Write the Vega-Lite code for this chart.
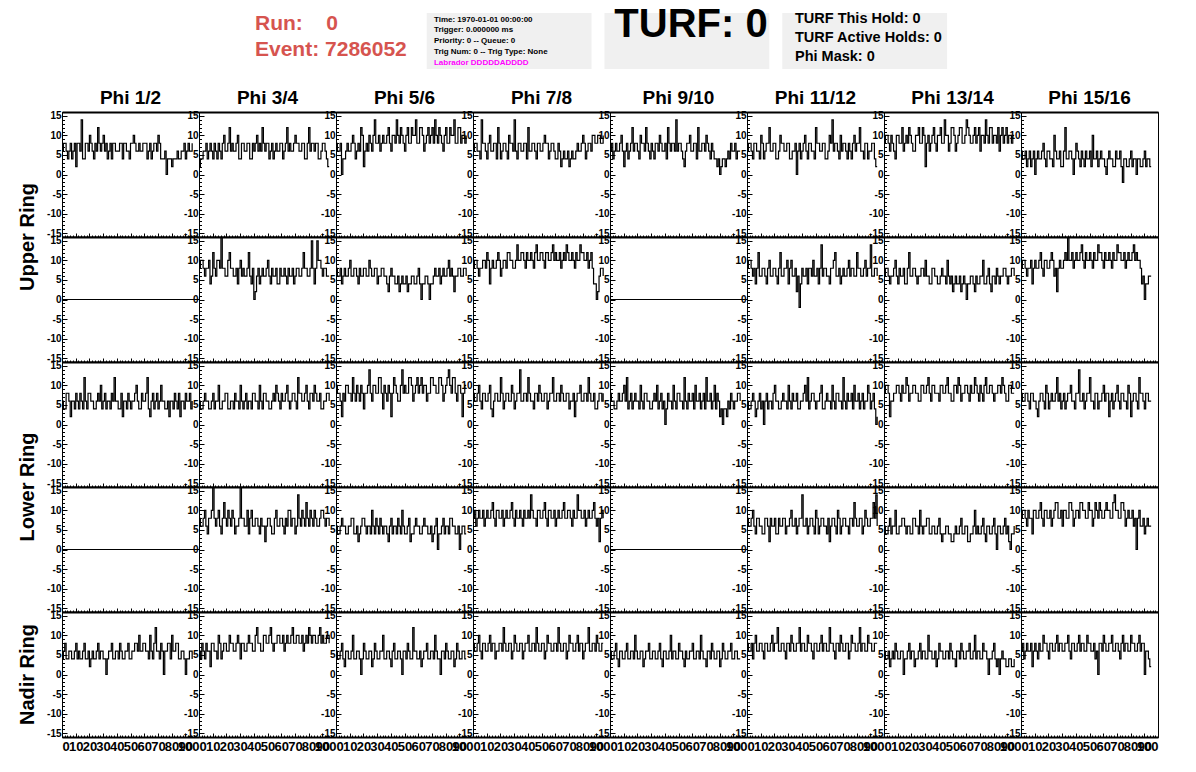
{
"$schema": "https://vega.github.io/schema/vega-lite/v6.json",
"padding": {"left": 0, "top": 4, "right": 0, "bottom": 0},
"background": "white",
"config": {"view": {"stroke": "black", "strokeWidth": 1, "fill": "white"}, "font": "Liberation Sans"},
"datasets": {"waves": [
{"ring":"U1","phi":"Phi 1/2","x":[0,1,2,3,4,5,6,7,8,9,10,11,12,13,14,15,16,17,18,19,20,21,22,23,24,25,26,27,28,29,30,31,32,33,34,35,36,37,38,39,40,41,42,43,44,45,46,47,48,49,50,51,52,53,54,55,56,57,58,59,60,61,62,63,64,65,66,67,68,69,70,71,72,73,74,75,76,77,78,79,80,81,82,83,84,85,86,87,88,89,90,91,92,93,94,95],"y":[6,8,8,6,4,6,8,4,6,8,2,8,8,6,14,4,4,8,8,6,10,8,6,4,8,6,12,8,6,8,10,6,8,4,6,8,4,8,8,6,6,6,8,8,4,8,8,6,6,4,8,8,10,8,6,6,8,6,6,8,8,8,4,6,8,4,6,8,8,6,10,8,4,4,4,6,0,4,4,4,2,4,4,4,6,4,4,6,6,8,4,6,8,6,6,8]},
{"ring":"U1","phi":"Phi 3/4","x":[0,1,2,3,4,5,6,7,8,9,10,11,12,13,14,15,16,17,18,19,20,21,22,23,24,25,26,27,28,29,30,31,32,33,34,35,36,37,38,39,40,41,42,43,44,45,46,47,48,49,50,51,52,53,54,55,56,57,58,59,60,61,62,63,64,65,66,67,68,69,70,71,72,73,74,75,76,77,78,79,80,81,82,83,84,85,86,87,88,89,90,91,92,93,94,95],"y":[2,4,4,6,6,8,4,6,8,6,4,8,6,4,8,6,4,8,10,6,6,8,12,6,8,6,6,8,10,4,4,8,8,6,6,8,8,4,4,8,6,8,10,6,8,6,12,8,6,8,8,4,6,8,4,6,8,6,6,8,8,4,6,8,12,6,8,6,6,8,10,8,8,6,6,8,8,4,4,8,12,6,8,8,6,8,8,4,4,6,8,8,6,4,2,2]},
{"ring":"U1","phi":"Phi 5/6","x":[0,1,2,3,4,5,6,7,8,9,10,11,12,13,14,15,16,17,18,19,20,21,22,23,24,25,26,27,28,29,30,31,32,33,34,35,36,37,38,39,40,41,42,43,44,45,46,47,48,49,50,51,52,53,54,55,56,57,58,59,60,61,62,63,64,65,66,67,68,69,70,71,72,73,74,75,76,77,78,79,80,81,82,83,84,85,86,87,88,89,90,91,92,93,94,95],"y":[8,6,6,8,0,4,4,6,8,6,6,8,10,8,4,6,8,6,12,10,2,6,8,6,10,8,6,10,14,8,8,10,6,8,10,8,8,10,12,8,6,10,10,8,14,10,8,12,10,8,6,10,12,8,8,12,10,10,14,8,8,12,12,10,6,8,10,12,8,10,12,8,14,10,8,12,10,8,6,10,12,8,8,12,10,10,14,8,8,12,12,8,10,10,8,10]},
{"ring":"U1","phi":"Phi 7/8","x":[0,1,2,3,4,5,6,7,8,9,10,11,12,13,14,15,16,17,18,19,20,21,22,23,24,25,26,27,28,29,30,31,32,33,34,35,36,37,38,39,40,41,42,43,44,45,46,47,48,49,50,51,52,53,54,55,56,57,58,59,60,61,62,63,64,65,66,67,68,69,70,71,72,73,74,75,76,77,78,79,80,81,82,83,84,85,86,87,88,89,90,91,92,93,94,95],"y":[6,8,8,6,6,4,14,8,8,6,4,8,10,6,6,8,8,4,12,8,4,6,8,8,6,4,10,8,8,6,14,6,4,8,8,6,6,8,8,4,12,6,6,8,8,6,4,8,8,6,6,8,10,8,8,4,6,8,8,6,4,4,8,6,2,4,6,4,4,6,2,4,6,4,4,6,8,6,6,8,10,8,4,6,8,8,6,10,10,8,8,10,10,8,8,10]},
{"ring":"U1","phi":"Phi 9/10","x":[0,1,2,3,4,5,6,7,8,9,10,11,12,13,14,15,16,17,18,19,20,21,22,23,24,25,26,27,28,29,30,31,32,33,34,35,36,37,38,39,40,41,42,43,44,45,46,47,48,49,50,51,52,53,54,55,56,57,58,59,60,61,62,63,64,65,66,67,68,69,70,71,72,73,74,75,76,77,78,79,80,81,82,83,84,85,86,87,88,89,90,91,92,93,94,95],"y":[6,8,4,6,8,6,6,8,10,6,2,6,8,4,6,8,12,6,8,8,6,4,10,8,8,6,12,8,6,4,8,6,4,8,8,6,10,8,6,6,8,4,12,8,6,8,8,6,14,6,8,8,6,4,2,6,8,8,10,6,6,8,8,4,12,6,6,8,8,6,10,8,6,4,8,6,4,4,2,4,0,2,4,4,2,4,6,4,8,6,6,8,4,6,6,6]},
{"ring":"U1","phi":"Phi 11/12","x":[0,1,2,3,4,5,6,7,8,9,10,11,12,13,14,15,16,17,18,19,20,21,22,23,24,25,26,27,28,29,30,31,32,33,34,35,36,37,38,39,40,41,42,43,44,45,46,47,48,49,50,51,52,53,54,55,56,57,58,59,60,61,62,63,64,65,66,67,68,69,70,71,72,73,74,75,76,77,78,79,80,81,82,83,84,85,86,87,88,89,90,91,92,93,94,95],"y":[6,8,8,6,4,8,8,6,6,4,10,8,4,6,8,8,12,6,6,8,8,4,4,6,10,8,8,6,6,8,8,4,4,6,6,8,0,6,8,4,6,8,10,6,4,8,8,6,6,4,12,8,8,6,6,8,8,4,4,6,10,8,14,6,8,8,6,4,10,6,8,8,6,4,8,6,4,8,10,6,8,8,12,6,6,4,8,8,4,6,6,8,8,4,2,2]},
{"ring":"U1","phi":"Phi 13/14","x":[0,1,2,3,4,5,6,7,8,9,10,11,12,13,14,15,16,17,18,19,20,21,22,23,24,25,26,27,28,29,30,31,32,33,34,35,36,37,38,39,40,41,42,43,44,45,46,47,48,49,50,51,52,53,54,55,56,57,58,59,60,61,62,63,64,65,66,67,68,69,70,71,72,73,74,75,76,77,78,79,80,81,82,83,84,85,86,87,88,89,90,91,92,93,94,95],"y":[8,10,10,8,6,10,8,6,4,10,10,8,8,12,6,8,10,8,12,10,8,6,6,10,10,12,8,8,12,10,2,8,10,6,8,10,12,8,6,10,10,12,8,8,14,10,10,6,8,12,12,10,6,8,10,12,12,8,8,10,14,12,10,8,8,10,12,8,10,12,6,10,10,8,14,10,8,12,12,8,10,10,8,12,6,10,12,8,10,12,8,10,10,8,10,10]},
{"ring":"U1","phi":"Phi 15/16","x":[0,1,2,3,4,5,6,7,8,9,10,11,12,13,14,15,16,17,18,19,20,21,22,23,24,25,26,27,28,29,30,31,32,33,34,35,36,37,38,39,40,41,42,43,44,45,46,47,48,49,50,51,52,53,54,55,56,57,58,59,60,61,62,63,64,65,66,67,68,69,70,71,72,73,74,75,76,77,78,79,80,81,82,83,84,85,86,87,88,89,90,91,92,93,94,95],"y":[6,4,4,6,2,4,6,2,4,6,0,4,6,4,4,6,8,4,2,6,6,4,4,2,10,6,4,4,6,2,2,6,12,4,4,6,6,4,0,4,8,6,4,2,6,4,2,6,4,4,6,2,10,4,4,6,2,4,6,4,4,2,0,4,6,4,4,2,2,6,4,4,6,2,-2,4,4,2,2,4,6,2,4,4,0,4,4,2,2,4,6,2,4,4,2,2]},
{"ring":"U2","phi":"Phi 1/2","x":[0,100],"y":[0,0]},
{"ring":"U2","phi":"Phi 3/4","x":[0,1,2,3,4,5,6,7,8,9,10,11,12,13,14,15,16,17,18,19,20,21,22,23,24,25,26,27,28,29,30,31,32,33,34,35,36,37,38,39,40,41,42,43,44,45,46,47,48,49,50,51,52,53,54,55,56,57,58,59,60,61,62,63,64,65,66,67,68,69,70,71,72,73,74,75,76,77,78,79,80,81,82,83,84,85,86,87,88,89,90,91,92,93,94,95],"y":[8,10,10,8,6,8,8,10,4,6,12,8,6,10,10,8,16,8,8,6,6,10,12,8,8,6,6,8,4,8,10,6,8,6,6,8,12,6,4,8,0,2,6,8,4,6,8,6,6,8,10,6,4,8,6,6,8,4,4,8,6,6,8,6,4,8,6,6,8,4,6,8,8,6,6,8,12,8,8,6,6,8,15,8,4,8,15,10,10,8,6,8,8,6,6,6]},
{"ring":"U2","phi":"Phi 5/6","x":[0,1,2,3,4,5,6,7,8,9,10,11,12,13,14,15,16,17,18,19,20,21,22,23,24,25,26,27,28,29,30,31,32,33,34,35,36,37,38,39,40,41,42,43,44,45,46,47,48,49,50,51,52,53,54,55,56,57,58,59,60,61,62,63,64,65,66,67,68,69,70,71,72,73,74,75,76,77,78,79,80,81,82,83,84,85,86,87,88,89,90,91,92,93,94,95],"y":[8,6,6,8,4,6,8,6,6,8,10,6,6,8,8,6,4,8,6,6,8,8,6,6,10,8,6,6,8,8,4,6,6,8,8,6,6,4,2,6,8,6,6,4,4,6,2,4,6,4,4,6,2,4,4,6,6,4,4,6,8,4,0,4,4,6,6,4,0,4,4,6,8,6,6,8,4,6,8,6,6,8,10,6,8,6,2,6,6,8,8,6,6,8,8,6]},
{"ring":"U2","phi":"Phi 7/8","x":[0,1,2,3,4,5,6,7,8,9,10,11,12,13,14,15,16,17,18,19,20,21,22,23,24,25,26,27,28,29,30,31,32,33,34,35,36,37,38,39,40,41,42,43,44,45,46,47,48,49,50,51,52,53,54,55,56,57,58,59,60,61,62,63,64,65,66,67,68,69,70,71,72,73,74,75,76,77,78,79,80,81,82,83,84,85,86,87,88,89,90,91,92,93,94,95],"y":[8,10,10,8,6,8,8,10,10,8,12,10,4,8,10,8,8,10,12,10,6,8,10,10,8,12,12,10,10,8,8,10,14,10,10,12,12,10,8,12,10,10,12,10,8,12,14,10,10,12,12,10,8,12,12,10,10,12,14,10,12,10,10,12,8,10,12,10,14,12,10,10,12,10,8,12,10,10,14,12,12,10,10,12,8,10,12,8,4,4,0,2,6,8,8,6]},
{"ring":"U2","phi":"Phi 9/10","x":[0,100],"y":[0,0]},
{"ring":"U2","phi":"Phi 11/12","x":[0,1,2,3,4,5,6,7,8,9,10,11,12,13,14,15,16,17,18,19,20,21,22,23,24,25,26,27,28,29,30,31,32,33,34,35,36,37,38,39,40,41,42,43,44,45,46,47,48,49,50,51,52,53,54,55,56,57,58,59,60,61,62,63,64,65,66,67,68,69,70,71,72,73,74,75,76,77,78,79,80,81,82,83,84,85,86,87,88,89,90,91,92,93,94,95],"y":[8,10,10,8,6,8,4,8,12,6,6,8,8,6,4,8,10,6,6,8,8,6,4,8,12,6,6,8,8,10,4,8,10,6,6,8,2,6,-2,4,8,6,6,8,4,8,8,6,10,6,6,8,4,8,14,6,8,8,6,6,4,8,8,10,12,6,6,8,4,6,8,6,6,8,10,6,8,8,6,6,12,8,8,6,6,8,10,6,8,8,14,6,6,8,8,6]},
{"ring":"U2","phi":"Phi 13/14","x":[0,1,2,3,4,5,6,7,8,9,10,11,12,13,14,15,16,17,18,19,20,21,22,23,24,25,26,27,28,29,30,31,32,33,34,35,36,37,38,39,40,41,42,43,44,45,46,47,48,49,50,51,52,53,54,55,56,57,58,59,60,61,62,63,64,65,66,67,68,69,70,71,72,73,74,75,76,77,78,79,80,81,82,83,84,85,86,87,88,89,90,91,92,93,94,95],"y":[6,8,8,6,4,6,6,8,10,6,4,8,6,6,8,4,4,8,12,6,6,8,8,6,4,6,6,8,8,6,10,6,6,4,4,8,8,6,6,4,4,6,8,6,6,4,10,6,4,6,2,4,6,4,4,6,2,4,6,4,0,4,4,6,6,4,2,6,4,4,6,6,10,4,4,6,8,4,2,6,6,4,8,6,4,6,6,8,8,6,4,6,6,8,8,6]},
{"ring":"U2","phi":"Phi 15/16","x":[0,1,2,3,4,5,6,7,8,9,10,11,12,13,14,15,16,17,18,19,20,21,22,23,24,25,26,27,28,29,30,31,32,33,34,35,36,37,38,39,40,41,42,43,44,45,46,47,48,49,50,51,52,53,54,55,56,57,58,59,60,61,62,63,64,65,66,67,68,69,70,71,72,73,74,75,76,77,78,79,80,81,82,83,84,85,86,87,88,89,90,91,92,93,94,95],"y":[8,10,10,8,6,8,8,10,4,8,10,8,8,10,12,8,6,10,10,8,8,10,12,10,6,8,2,8,10,8,8,10,12,10,16,10,10,12,8,10,12,10,10,12,14,10,8,12,10,10,12,10,8,12,10,10,14,12,12,10,8,12,10,10,12,10,8,12,10,10,14,12,12,10,10,12,8,10,12,10,10,12,14,10,12,10,10,8,4,6,0,4,4,6,6,6]},
{"ring":"L1","phi":"Phi 1/2","x":[0,1,2,3,4,5,6,7,8,9,10,11,12,13,14,15,16,17,18,19,20,21,22,23,24,25,26,27,28,29,30,31,32,33,34,35,36,37,38,39,40,41,42,43,44,45,46,47,48,49,50,51,52,53,54,55,56,57,58,59,60,61,62,63,64,65,66,67,68,69,70,71,72,73,74,75,76,77,78,79,80,81,82,83,84,85,86,87,88,89,90,91,92,93,94,95],"y":[6,4,4,8,8,6,2,6,6,4,8,6,4,8,6,4,12,6,4,8,8,6,6,4,4,6,8,6,10,4,6,8,4,6,6,4,8,6,12,6,6,4,4,8,2,6,6,4,8,6,4,6,6,8,10,6,4,4,8,6,6,8,12,4,2,6,8,4,6,8,4,6,10,6,6,4,4,6,2,6,6,4,8,6,4,8,2,6,6,4,8,6,6,8,4,6]},
{"ring":"L1","phi":"Phi 3/4","x":[0,1,2,3,4,5,6,7,8,9,10,11,12,13,14,15,16,17,18,19,20,21,22,23,24,25,26,27,28,29,30,31,32,33,34,35,36,37,38,39,40,41,42,43,44,45,46,47,48,49,50,51,52,53,54,55,56,57,58,59,60,61,62,63,64,65,66,67,68,69,70,71,72,73,74,75,76,77,78,79,80,81,82,83,84,85,86,87,88,89,90,91,92,93,94,95],"y":[6,4,4,6,8,6,6,4,4,6,8,4,6,6,10,4,4,6,6,8,8,4,4,6,6,4,8,6,6,4,10,6,4,6,8,4,6,6,4,8,8,6,6,4,10,6,4,8,8,6,6,4,4,6,8,6,10,8,6,4,8,6,6,8,10,6,4,6,8,8,6,4,12,8,8,6,6,8,10,6,4,8,8,6,10,8,6,6,8,4,4,6,6,8,8,6]},
{"ring":"L1","phi":"Phi 5/6","x":[0,1,2,3,4,5,6,7,8,9,10,11,12,13,14,15,16,17,18,19,20,21,22,23,24,25,26,27,28,29,30,31,32,33,34,35,36,37,38,39,40,41,42,43,44,45,46,47,48,49,50,51,52,53,54,55,56,57,58,59,60,61,62,63,64,65,66,67,68,69,70,71,72,73,74,75,76,77,78,79,80,81,82,83,84,85,86,87,88,89,90,91,92,93,94,95],"y":[10,8,8,6,2,8,6,10,10,8,8,6,12,8,6,10,8,6,10,8,4,8,8,10,14,8,6,10,10,8,8,12,12,8,4,10,8,6,10,8,2,8,12,10,8,6,6,10,14,8,10,8,8,12,12,10,6,8,10,12,8,10,12,8,10,10,6,8,8,12,12,10,10,8,8,12,12,10,6,8,10,12,14,10,8,12,12,8,6,10,10,8,2,8,10,10]},
{"ring":"L1","phi":"Phi 7/8","x":[0,1,2,3,4,5,6,7,8,9,10,11,12,13,14,15,16,17,18,19,20,21,22,23,24,25,26,27,28,29,30,31,32,33,34,35,36,37,38,39,40,41,42,43,44,45,46,47,48,49,50,51,52,53,54,55,56,57,58,59,60,61,62,63,64,65,66,67,68,69,70,71,72,73,74,75,76,77,78,79,80,81,82,83,84,85,86,87,88,89,90,91,92,93,94,95],"y":[8,6,6,8,10,6,4,8,8,6,6,8,10,4,2,6,8,8,6,6,12,8,4,6,8,8,6,6,10,8,4,6,8,8,14,6,6,8,8,6,12,8,6,6,4,8,8,6,10,8,6,6,8,8,4,6,8,8,12,6,6,8,8,6,10,8,6,6,8,8,4,6,6,8,2,6,8,8,10,6,6,8,8,6,12,8,6,6,8,4,4,6,8,8,6,8]},
{"ring":"L1","phi":"Phi 9/10","x":[0,1,2,3,4,5,6,7,8,9,10,11,12,13,14,15,16,17,18,19,20,21,22,23,24,25,26,27,28,29,30,31,32,33,34,35,36,37,38,39,40,41,42,43,44,45,46,47,48,49,50,51,52,53,54,55,56,57,58,59,60,61,62,63,64,65,66,67,68,69,70,71,72,73,74,75,76,77,78,79,80,81,82,83,84,85,86,87,88,89,90,91,92,93,94,95],"y":[8,6,6,4,4,6,8,6,6,8,10,6,12,4,6,8,4,6,8,6,6,4,10,6,4,8,8,6,6,4,4,6,8,6,10,4,6,8,4,6,0,4,8,6,6,4,10,6,4,8,8,6,6,4,12,6,4,8,6,6,8,4,10,6,6,8,4,6,8,4,12,6,6,8,4,6,10,4,8,6,2,4,0,4,4,2,6,4,8,6,4,6,6,8,8,6]},
{"ring":"L1","phi":"Phi 11/12","x":[0,1,2,3,4,5,6,7,8,9,10,11,12,13,14,15,16,17,18,19,20,21,22,23,24,25,26,27,28,29,30,31,32,33,34,35,36,37,38,39,40,41,42,43,44,45,46,47,48,49,50,51,52,53,54,55,56,57,58,59,60,61,62,63,64,65,66,67,68,69,70,71,72,73,74,75,76,77,78,79,80,81,82,83,84,85,86,87,88,89,90,91,92,93,94,95],"y":[6,4,4,6,8,6,2,4,6,8,4,6,0,6,8,4,6,6,4,8,10,6,6,4,4,6,8,6,6,4,10,6,4,8,6,6,8,4,4,6,6,8,10,6,12,4,6,8,8,6,4,6,6,8,10,4,4,6,8,6,6,4,10,6,4,8,8,6,6,4,12,6,4,8,6,6,8,4,10,6,6,8,4,6,8,4,6,6,10,8,4,6,8,4,0,2]},
{"ring":"L1","phi":"Phi 13/14","x":[0,1,2,3,4,5,6,7,8,9,10,11,12,13,14,15,16,17,18,19,20,21,22,23,24,25,26,27,28,29,30,31,32,33,34,35,36,37,38,39,40,41,42,43,44,45,46,47,48,49,50,51,52,53,54,55,56,57,58,59,60,61,62,63,64,65,66,67,68,69,70,71,72,73,74,75,76,77,78,79,80,81,82,83,84,85,86,87,88,89,90,91,92,93,94,95],"y":[8,10,10,8,2,6,6,8,8,10,10,8,6,10,8,8,12,10,6,8,8,10,10,8,8,6,6,10,10,8,8,10,12,8,6,10,10,8,8,8,6,10,10,8,8,10,12,8,8,6,6,10,10,8,12,10,6,8,8,10,10,8,6,10,8,8,12,10,8,6,10,8,6,10,12,8,8,10,10,8,6,8,8,10,10,8,12,10,8,6,6,10,10,8,8,8]},
{"ring":"L1","phi":"Phi 15/16","x":[0,1,2,3,4,5,6,7,8,9,10,11,12,13,14,15,16,17,18,19,20,21,22,23,24,25,26,27,28,29,30,31,32,33,34,35,36,37,38,39,40,41,42,43,44,45,46,47,48,49,50,51,52,53,54,55,56,57,58,59,60,61,62,63,64,65,66,67,68,69,70,71,72,73,74,75,76,77,78,79,80,81,82,83,84,85,86,87,88,89,90,91,92,93,94,95],"y":[8,6,6,8,8,6,4,8,8,6,6,4,2,6,8,8,6,4,10,8,4,6,8,6,6,8,12,6,8,4,6,8,4,6,8,8,10,6,6,4,8,8,14,6,6,8,4,6,8,8,12,6,6,4,8,8,4,6,6,8,10,6,8,8,2,6,8,4,6,8,10,6,4,8,8,6,6,4,10,8,2,6,8,8,6,4,12,8,8,6,4,8,8,6,6,6]},
{"ring":"L2","phi":"Phi 1/2","x":[0,100],"y":[0,0]},
{"ring":"L2","phi":"Phi 3/4","x":[0,1,2,3,4,5,6,7,8,9,10,11,12,13,14,15,16,17,18,19,20,21,22,23,24,25,26,27,28,29,30,31,32,33,34,35,36,37,38,39,40,41,42,43,44,45,46,47,48,49,50,51,52,53,54,55,56,57,58,59,60,61,62,63,64,65,66,67,68,69,70,71,72,73,74,75,76,77,78,79,80,81,82,83,84,85,86,87,88,89,90,91,92,93,94,95],"y":[8,6,6,8,10,6,4,8,8,10,16,8,6,8,10,6,4,8,12,8,6,10,8,6,10,8,4,6,6,8,16,8,8,6,6,10,4,8,10,6,6,8,8,6,4,8,6,6,2,6,8,8,6,4,4,8,10,6,6,8,8,6,4,8,6,10,10,6,8,8,4,6,14,8,6,10,8,6,12,8,6,10,8,6,10,8,6,6,8,10,10,8,6,8,8,6]},
{"ring":"L2","phi":"Phi 5/6","x":[0,1,2,3,4,5,6,7,8,9,10,11,12,13,14,15,16,17,18,19,20,21,22,23,24,25,26,27,28,29,30,31,32,33,34,35,36,37,38,39,40,41,42,43,44,45,46,47,48,49,50,51,52,53,54,55,56,57,58,59,60,61,62,63,64,65,66,67,68,69,70,71,72,73,74,75,76,77,78,79,80,81,82,83,84,85,86,87,88,89,90,91,92,93,94,95],"y":[6,4,4,6,8,6,6,4,4,6,6,8,8,4,4,6,2,4,6,8,8,6,4,6,6,4,10,6,4,8,6,4,8,6,4,6,6,4,2,6,8,4,6,6,4,8,6,4,10,6,4,4,6,8,2,4,4,6,8,6,6,4,4,6,8,6,6,4,4,6,2,4,6,8,0,4,4,6,8,4,6,6,4,8,8,6,6,4,4,6,0,4,6,6,4,4]},
{"ring":"L2","phi":"Phi 7/8","x":[0,1,2,3,4,5,6,7,8,9,10,11,12,13,14,15,16,17,18,19,20,21,22,23,24,25,26,27,28,29,30,31,32,33,34,35,36,37,38,39,40,41,42,43,44,45,46,47,48,49,50,51,52,53,54,55,56,57,58,59,60,61,62,63,64,65,66,67,68,69,70,71,72,73,74,75,76,77,78,79,80,81,82,83,84,85,86,87,88,89,90,91,92,93,94,95],"y":[8,10,6,8,10,8,8,10,6,8,10,8,8,10,12,8,6,10,10,8,8,10,6,8,10,8,8,10,12,8,6,10,8,8,10,8,6,10,8,8,10,8,14,10,8,8,6,10,10,8,8,10,12,8,6,10,10,8,8,10,6,8,10,8,8,10,12,8,8,10,10,8,6,10,8,8,14,10,10,8,8,10,6,8,10,8,8,10,12,8,6,8,2,8,10,8]},
{"ring":"L2","phi":"Phi 9/10","x":[0,100],"y":[0,0]},
{"ring":"L2","phi":"Phi 11/12","x":[0,1,2,3,4,5,6,7,8,9,10,11,12,13,14,15,16,17,18,19,20,21,22,23,24,25,26,27,28,29,30,31,32,33,34,35,36,37,38,39,40,41,42,43,44,45,46,47,48,49,50,51,52,53,54,55,56,57,58,59,60,61,62,63,64,65,66,67,68,69,70,71,72,73,74,75,76,77,78,79,80,81,82,83,84,85,86,87,88,89,90,91,92,93,94,95],"y":[8,6,6,8,10,6,4,8,8,6,6,4,4,8,8,6,2,8,6,6,8,4,4,8,6,6,8,8,4,6,6,8,10,6,6,8,4,6,8,8,14,6,6,8,4,6,8,8,6,4,10,8,4,6,8,8,6,6,4,8,2,6,8,8,6,4,10,8,4,6,8,8,6,6,4,8,8,6,12,8,6,6,8,8,4,6,10,8,6,6,8,8,12,8,14,6]},
{"ring":"L2","phi":"Phi 13/14","x":[0,1,2,3,4,5,6,7,8,9,10,11,12,13,14,15,16,17,18,19,20,21,22,23,24,25,26,27,28,29,30,31,32,33,34,35,36,37,38,39,40,41,42,43,44,45,46,47,48,49,50,51,52,53,54,55,56,57,58,59,60,61,62,63,64,65,66,67,68,69,70,71,72,73,74,75,76,77,78,79,80,81,82,83,84,85,86,87,88,89,90,91,92,93,94,95],"y":[6,4,4,6,8,4,6,6,10,4,4,6,6,8,8,6,4,6,6,4,4,8,8,6,6,4,10,6,4,6,6,8,8,4,4,6,6,4,4,6,8,4,2,4,4,6,6,4,4,2,2,4,6,4,4,6,8,4,4,6,6,2,2,4,4,6,10,4,6,4,4,6,8,4,2,6,6,4,4,6,8,4,0,6,6,4,4,6,8,4,6,2,0,4,4,6]},
{"ring":"L2","phi":"Phi 15/16","x":[0,1,2,3,4,5,6,7,8,9,10,11,12,13,14,15,16,17,18,19,20,21,22,23,24,25,26,27,28,29,30,31,32,33,34,35,36,37,38,39,40,41,42,43,44,45,46,47,48,49,50,51,52,53,54,55,56,57,58,59,60,61,62,63,64,65,66,67,68,69,70,71,72,73,74,75,76,77,78,79,80,81,82,83,84,85,86,87,88,89,90,91,92,93,94,95],"y":[8,10,10,8,6,10,8,8,4,10,10,8,8,10,12,8,6,10,10,8,8,10,6,8,10,12,12,8,8,10,6,10,10,8,8,12,12,10,6,8,10,10,8,12,12,10,10,8,8,12,10,10,6,8,12,10,8,12,10,8,8,10,12,10,10,8,8,12,14,10,10,8,8,12,12,10,6,8,10,8,8,10,6,8,0,8,10,6,6,8,4,6,8,6,6,6]},
{"ring":"N","phi":"Phi 1/2","x":[0,1,2,3,4,5,6,7,8,9,10,11,12,13,14,15,16,17,18,19,20,21,22,23,24,25,26,27,28,29,30,31,32,33,34,35,36,37,38,39,40,41,42,43,44,45,46,47,48,49,50,51,52,53,54,55,56,57,58,59,60,61,62,63,64,65,66,67,68,69,70,71,72,73,74,75,76,77,78,79,80,81,82,83,84,85,86,87,88,89,90,91,92,93,94,95],"y":[4,6,8,4,4,6,6,4,4,6,8,4,6,4,4,6,8,4,4,6,2,4,6,4,4,6,8,4,6,6,4,4,0,4,6,6,8,4,4,6,6,4,8,6,4,4,6,6,8,4,4,6,6,8,8,6,10,6,6,8,8,6,6,4,10,6,4,8,12,6,6,4,8,6,0,6,6,8,8,4,10,6,6,8,8,4,4,6,6,4,0,4,4,6,6,4]},
{"ring":"N","phi":"Phi 3/4","x":[0,1,2,3,4,5,6,7,8,9,10,11,12,13,14,15,16,17,18,19,20,21,22,23,24,25,26,27,28,29,30,31,32,33,34,35,36,37,38,39,40,41,42,43,44,45,46,47,48,49,50,51,52,53,54,55,56,57,58,59,60,61,62,63,64,65,66,67,68,69,70,71,72,73,74,75,76,77,78,79,80,81,82,83,84,85,86,87,88,89,90,91,92,93,94,95],"y":[6,4,8,6,4,8,6,6,2,8,8,6,6,4,10,8,4,6,8,8,6,6,10,8,8,6,6,8,10,8,4,8,8,6,6,8,10,8,8,6,6,10,12,8,8,6,6,10,10,8,8,10,12,8,6,8,8,10,10,8,8,10,6,8,10,8,8,10,12,8,8,10,10,8,8,10,6,8,10,8,12,10,8,10,10,8,8,10,12,8,10,8,8,10,10,8]},
{"ring":"N","phi":"Phi 5/6","x":[0,1,2,3,4,5,6,7,8,9,10,11,12,13,14,15,16,17,18,19,20,21,22,23,24,25,26,27,28,29,30,31,32,33,34,35,36,37,38,39,40,41,42,43,44,45,46,47,48,49,50,51,52,53,54,55,56,57,58,59,60,61,62,63,64,65,66,67,68,69,70,71,72,73,74,75,76,77,78,79,80,81,82,83,84,85,86,87,88,89,90,91,92,93,94,95],"y":[6,4,4,6,8,4,2,6,6,4,4,6,10,4,4,6,6,4,0,4,8,6,4,4,6,6,2,4,8,6,4,4,6,6,10,4,4,6,6,4,2,6,8,4,4,6,6,4,0,6,6,4,8,6,4,4,12,6,6,4,4,6,2,4,6,6,8,4,4,6,6,4,10,6,4,4,0,6,6,4,8,6,4,4,6,6,2,4,8,6,4,4,6,6,4,4]},
{"ring":"N","phi":"Phi 7/8","x":[0,1,2,3,4,5,6,7,8,9,10,11,12,13,14,15,16,17,18,19,20,21,22,23,24,25,26,27,28,29,30,31,32,33,34,35,36,37,38,39,40,41,42,43,44,45,46,47,48,49,50,51,52,53,54,55,56,57,58,59,60,61,62,63,64,65,66,67,68,69,70,71,72,73,74,75,76,77,78,79,80,81,82,83,84,85,86,87,88,89,90,91,92,93,94,95],"y":[8,6,6,8,10,6,4,8,8,6,6,8,10,6,8,8,4,6,6,8,8,6,12,8,6,6,8,8,4,6,10,8,6,6,8,8,4,6,8,8,10,6,6,8,8,6,12,8,6,6,8,8,4,6,10,8,8,6,6,8,8,6,12,8,6,6,8,8,4,6,10,8,8,6,6,8,10,6,8,8,4,6,8,8,12,6,6,8,8,6,10,8,6,6,8,8]},
{"ring":"N","phi":"Phi 9/10","x":[0,1,2,3,4,5,6,7,8,9,10,11,12,13,14,15,16,17,18,19,20,21,22,23,24,25,26,27,28,29,30,31,32,33,34,35,36,37,38,39,40,41,42,43,44,45,46,47,48,49,50,51,52,53,54,55,56,57,58,59,60,61,62,63,64,65,66,67,68,69,70,71,72,73,74,75,76,77,78,79,80,81,82,83,84,85,86,87,88,89,90,91,92,93,94,95],"y":[6,4,4,6,8,4,2,6,6,4,4,6,8,4,4,6,6,4,10,6,4,4,6,6,2,4,6,6,8,4,4,6,6,4,4,6,8,4,2,6,6,4,4,6,10,4,6,6,4,4,8,6,6,4,2,6,4,4,6,6,8,4,4,6,6,4,10,6,4,4,2,6,6,4,8,6,4,4,6,6,2,4,8,6,4,4,6,6,8,4,4,6,6,4,4,4]},
{"ring":"N","phi":"Phi 11/12","x":[0,1,2,3,4,5,6,7,8,9,10,11,12,13,14,15,16,17,18,19,20,21,22,23,24,25,26,27,28,29,30,31,32,33,34,35,36,37,38,39,40,41,42,43,44,45,46,47,48,49,50,51,52,53,54,55,56,57,58,59,60,61,62,63,64,65,66,67,68,69,70,71,72,73,74,75,76,77,78,79,80,81,82,83,84,85,86,87,88,89,90,91,92,93,94,95],"y":[8,6,6,8,4,8,10,6,6,8,8,6,4,8,8,6,6,8,10,6,8,8,12,6,6,8,8,6,4,8,8,6,10,8,6,6,8,8,12,6,8,8,6,6,10,8,8,6,4,8,8,6,6,8,10,6,8,8,6,6,12,8,8,6,4,8,8,6,10,8,6,6,8,8,4,6,10,8,8,6,6,8,12,6,8,8,6,6,10,8,8,6,6,8,8,8]},
{"ring":"N","phi":"Phi 13/14","x":[0,1,2,3,4,5,6,7,8,9,10,11,12,13,14,15,16,17,18,19,20,21,22,23,24,25,26,27,28,29,30,31,32,33,34,35,36,37,38,39,40,41,42,43,44,45,46,47,48,49,50,51,52,53,54,55,56,57,58,59,60,61,62,63,64,65,66,67,68,69,70,71,72,73,74,75,76,77,78,79,80,81,82,83,84,85,86,87,88,89,90,91,92,93,94,95],"y":[6,4,4,6,2,4,6,4,8,6,4,4,6,6,0,4,4,6,8,4,6,6,2,4,4,6,8,4,6,6,4,4,10,6,6,4,4,6,2,4,8,6,6,4,4,6,6,4,8,6,4,4,2,6,6,4,8,6,4,4,6,6,8,4,4,6,10,4,6,6,4,4,8,6,6,4,0,4,4,6,8,4,2,4,0,4,6,4,4,2,2,4,4,2,2,4]},
{"ring":"N","phi":"Phi 15/16","x":[0,1,2,3,4,5,6,7,8,9,10,11,12,13,14,15,16,17,18,19,20,21,22,23,24,25,26,27,28,29,30,31,32,33,34,35,36,37,38,39,40,41,42,43,44,45,46,47,48,49,50,51,52,53,54,55,56,57,58,59,60,61,62,63,64,65,66,67,68,69,70,71,72,73,74,75,76,77,78,79,80,81,82,83,84,85,86,87,88,89,90,91,92,93,94,95],"y":[6,8,4,6,8,6,6,8,2,6,8,6,4,8,6,6,10,8,8,6,4,8,8,6,6,8,10,6,8,8,6,6,8,8,10,6,4,8,8,6,6,8,10,6,8,8,6,6,10,8,8,6,6,8,4,6,0,8,8,6,10,8,6,6,8,8,10,6,6,8,8,6,4,8,10,6,8,8,6,6,10,8,8,6,6,8,10,6,8,8,0,6,6,4,2,2]}
]},
"spacing": 7,
"bounds": "flush",
"vconcat": [
{
"width": 1196, "height": 56,
"view": {"stroke": null, "fill": null},
"layer": [
{"data": {"values": [{"box":"B"},{"box":"C"},{"box":"D"}]},
 "mark": {"type":"bar","color":"#f0f0f0"},
 "encoding": {"x": {"field":"box","type":"nominal","axis":null,"scale":{"type":"band","domain":["s1","A","B","C","D","s2"],"paddingInner":0.073,"paddingOuter":0.4,"align":0.5}}}},
{"data": {"values": [{"box":"A","line":1,"text":"Run:\u00a0\u00a0\u00a0 0"},{"box":"A","line":2,"text":"Event: 7286052"}]},
 "mark": {"type":"text","align":"left","baseline":"middle","fontSize":21,"fontWeight":"bold","color":"#d6544f"},
 "encoding": {"x": {"field":"box","type":"nominal","bandPosition":0.037,"axis":null,"scale":{"type":"band","domain":["s1","A","B","C","D","s2"],"paddingInner":0.073,"paddingOuter":0.4,"align":0.5}},
  "y": {"field":"line","type":"ordinal","axis":null,"scale":{"type":"point","padding":0.57,"align":0.36}},
  "text": {"field":"text"}}},
{"data": {"values": [{"box":"B","line":1,"text":"Time: 1970-01-01 00:00:00"},{"box":"B","line":2,"text":"Trigger: 0.000000 ms"},{"box":"B","line":3,"text":"Priority: 0 -- Queue: 0"},{"box":"B","line":4,"text":"Trig Num: 0 -- Trig Type: None"},{"box":"B","line":5,"text":"Labrador DDDDDADDDD"}]},
 "mark": {"type":"text","align":"left","baseline":"middle","fontSize":8,"fontWeight":"bold"},
 "encoding": {"x": {"field":"box","type":"nominal","bandPosition":0.044,"axis":null,"scale":{"type":"band","domain":["s1","A","B","C","D","s2"],"paddingInner":0.073,"paddingOuter":0.4,"align":0.5}},
  "y": {"field":"line","type":"ordinal","axis":null,"scale":{"type":"point","padding":0.6,"align":0.52}},
  "color": {"condition": {"test": "datum.line === 5", "value": "#ff00ff"}, "value": "black"},
  "text": {"field":"text"}}},
{"data": {"values": [{"box":"C","line":1,"text":"TURF: 0"}]},
 "mark": {"type":"text","align":"center","baseline":"middle","fontSize":40,"fontWeight":"bold","color":"black"},
 "encoding": {"x": {"field":"box","type":"nominal","bandPosition":0.525,"axis":null,"scale":{"type":"band","domain":["s1","A","B","C","D","s2"],"paddingInner":0.073,"paddingOuter":0.4,"align":0.5}},
  "y": {"field":"line","type":"ordinal","axis":null,"scale":{"type":"point","padding":0,"align":0.21}},
  "text": {"field":"text"}}},
{"data": {"values": [{"box":"D","line":1,"text":"TURF This Hold: 0"},{"box":"D","line":2,"text":"TURF Active Holds: 0"},{"box":"D","line":3,"text":"Phi Mask: 0"}]},
 "mark": {"type":"text","align":"left","baseline":"middle","fontSize":14.5,"fontWeight":"bold","color":"black"},
 "encoding": {"x": {"field":"box","type":"nominal","bandPosition":0.077,"axis":null,"scale":{"type":"band","domain":["s1","A","B","C","D","s2"],"paddingInner":0.073,"paddingOuter":0.4,"align":0.5}},
  "y": {"field":"line","type":"ordinal","axis":null,"scale":{"type":"point","padding":0.49,"align":0.34}},
  "text": {"field":"text"}}}
],
"resolve": {"scale": {"y": "independent"}}
},
{
"spacing": 10,
"bounds": "flush",
"vconcat": [
{
"width": 1196, "height": 26,
"view": {"stroke": null, "fill": null},
"data": {"values": [{"phi":"Phi 1/2"},{"phi":"Phi 3/4"},{"phi":"Phi 5/6"},{"phi":"Phi 7/8"},{"phi":"Phi 9/10"},{"phi":"Phi 11/12"},{"phi":"Phi 13/14"},{"phi":"Phi 15/16"}]},
"mark": {"type":"text","align":"center","baseline":"top","fontSize":19,"fontWeight":"bold","color":"black"},
"encoding": {"x": {"field":"phi","type":"nominal","sort":null,"axis":null,"scale":{"type":"band","paddingInner":0,"paddingOuter":0.365,"align":0.62}}, "text": {"field":"phi"}}
},
{
"hconcat": [
{
"width": 55, "height": 625,
"view": {"stroke": null, "fill": null},
"data": {"values": [{"row":"U1","label":"Upper Ring"},{"row":"L1","label":"Lower Ring"},{"row":"N","label":"Nadir Ring"}]},
"layer": [
{"transform": [{"filter": "datum.row !== 'N'"}],
 "mark": {"type":"text","angle":270,"fontSize":20,"fontWeight":"bold","baseline":"middle","align":"center","color":"black"},
 "encoding": {"y": {"field":"row","type":"nominal","bandPosition":1,"axis":null,"scale":{"type":"band","domain":["U1","U2","L1","L2","N"],"paddingInner":0,"paddingOuter":0}},"text": {"field":"label"}}},
{"transform": [{"filter": "datum.row === 'N'"}],
 "mark": {"type":"text","angle":270,"fontSize":20,"fontWeight":"bold","baseline":"middle","align":"center","color":"black"},
 "encoding": {"y": {"field":"row","type":"nominal","bandPosition":0.5,"axis":null,"scale":{"type":"band","domain":["U1","U2","L1","L2","N"],"paddingInner":0,"paddingOuter":0}},"text": {"field":"label"}}}
]
},
{
"data": {"name": "waves"},
"transform": [{"flatten": ["x","y"]}],
"facet": {
 "row": {"field":"ring","type":"nominal","sort":["U1","U2","L1","L2","N"],"header":{"title":null,"labels":false}},
 "column": {"field":"phi","type":"nominal","sort":["Phi 1/2","Phi 3/4","Phi 5/6","Phi 7/8","Phi 9/10","Phi 11/12","Phi 13/14","Phi 15/16"],"header":{"title":null,"labels":false}}
},
"spacing": 0,
"bounds": "flush",
"resolve": {"axis": {"x":"independent","y":"independent"}},
"spec": {
 "width": 137, "height": 125,
 "layer": [
 {
 "mark": {"type":"line","interpolate":"step-after","color":"black","strokeWidth":1.2,"clip":true},
 "encoding": {
  "x": {"field":"x","type":"quantitative","scale":{"domain":[0,100],"nice":false,"zero":false},
   "axis": {"title":null,"orient":"bottom","values":[0,2,4,6,8,10,12,14,16,18,20,22,24,26,28,30,32,34,36,38,40,42,44,46,48,50,52,54,56,58,60,62,64,66,68,70,72,74,76,78,80,82,84,86,88,90,92,94,96,98,100],
    "labelExpr":"datum.value % 10 === 0 ? '' + datum.value : ''",
    "tickSize":{"condition":{"test":"datum.value % 10 === 0","value":-4},"value":-2},
    "labelPadding":7,"labelFontSize":13,"labelFontWeight":"bold","labelColor":"black","tickColor":"black","domainColor":"black","domainWidth":2,"grid":false,"labelOverlap":false,"labelFlush":true,"labelBound":false,"labelAngle":0}},
  "y": {"field":"y","type":"quantitative","scale":{"domain":[-16,16],"nice":false,"zero":false},
   "axis": {"title":null,"orient":"left","values":[-15,-14,-13,-12,-11,-10,-9,-8,-7,-6,-5,-4,-3,-2,-1,0,1,2,3,4,5,6,7,8,9,10,11,12,13,14,15],
    "labelExpr":"datum.value % 5 === 0 ? '' + datum.value : ''",
    "tickSize":{"condition":{"test":"datum.value % 5 === 0","value":-5},"value":-2.5},
    "labelPadding":6,"labelFontSize":10,"labelFontWeight":"bold","labelColor":"black","tickColor":"black","domainColor":"black","grid":false,"labelOverlap":false,"labelFlush":false,"labelBound":false}}
 }
 },
 {
 "mark": {"type":"line","interpolate":"step-after","opacity":0},
 "encoding": {
  "x": {"field":"x","type":"quantitative","scale":{"domain":[0,100],"nice":false,"zero":false},
   "axis": {"title":null,"orient":"top","labels":false,"ticks":false,"domainWidth":2,"domainColor":"black","grid":false}}
 }
 }
 ],
 "resolve": {"axis": {"x": "independent"}}
}
}
],
"spacing": 7,
"bounds": "flush"
}
]
}
]
}
